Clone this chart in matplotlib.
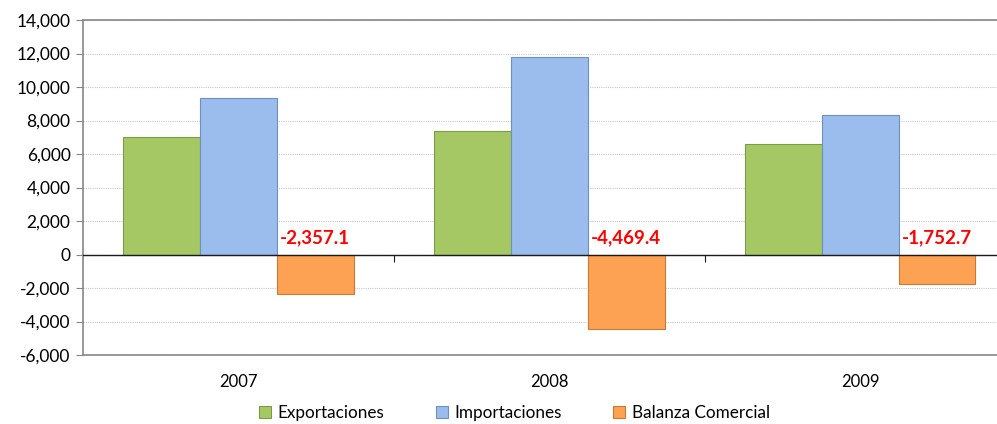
"""
Exportaciones, importaciones y balanza comercial 2007-2009.
"""
import matplotlib

matplotlib.use("Agg")
import matplotlib.pyplot as plt
import numpy as np
from matplotlib.ticker import FuncFormatter

plt.rcParams["font.family"] = ["Lato", "DejaVu Sans"]

years = ["2007", "2008", "2009"]
exportaciones = [7000, 7350, 6570]
importaciones = [9357, 11819, 8323]
balanza = [-2357.1, -4469.4, -1752.7]

series = ["Exportaciones", "Importaciones", "Balanza Comercial"]
colors = ["#A6C864", "#9BBDEE", "#FDA153"]
edges = ["#7E9A48", "#6F8FBF", "#C97A35"]

fig = plt.figure(figsize=(9.97, 4.24), dpi=100)
ax = fig.add_axes([0.0833, 0.1627, 0.9167, 0.7901])

x = np.arange(len(years))
width = 0.247
for i, (name, vals) in enumerate(zip(series, [exportaciones, importaciones, balanza])):
    ax.bar(x + (i - 1) * width, vals, width, color=colors[i], edgecolor=edges[i],
           linewidth=0.8, label=name, zorder=3)

for xi, v in zip(x, balanza):
    ax.annotate(f"{v:,.1f}", (xi + width, 0), xytext=(0, 6), textcoords="offset points",
                ha="center", va="bottom", color="#FF0000", fontweight="bold", fontsize=13.5)

ax.set_ylim(-6000, 14000)
ax.set_yticks(np.arange(-6000, 14001, 2000))
ax.yaxis.set_major_formatter(FuncFormatter(lambda v, p: f"{v:,.0f}"))
ax.set_xlim(-0.5, 2.44)
ax.set_xticks(x)
ax.set_xticklabels(years)

ax.grid(axis="y", color="#C8C8C8", linestyle=(0, (1, 1)), linewidth=0.8, zorder=0)
ax.axhline(0, color="#1a1a1a", linewidth=1.0, zorder=4)

for side in ["left", "top", "bottom"]:
    ax.spines[side].set_color("#868686")
    ax.spines[side].set_linewidth(1.2)
ax.spines["right"].set_visible(False)

ax.tick_params(axis="y", direction="out", length=5, color="#868686", labelsize=12.5, pad=4)
ax.tick_params(axis="x", length=0, labelsize=12, pad=14)

# category boundary ticks on the zero line
sec = ax.secondary_xaxis(0.3)
sec.set_xticks([0.5, 1.5])
sec.set_xticklabels([])
sec.tick_params(direction="out", length=5, color="#1a1a1a")
sec.spines["bottom"].set_visible(False)

fig.legend(loc="center", bbox_to_anchor=(0.516, 1 - 413 / 424), ncol=3, frameon=False,
           fontsize=12.3, handlelength=0.7, handleheight=0.7, handletextpad=0.4,
           columnspacing=3.0, borderpad=0)

fig.savefig("out.png", dpi=100)
